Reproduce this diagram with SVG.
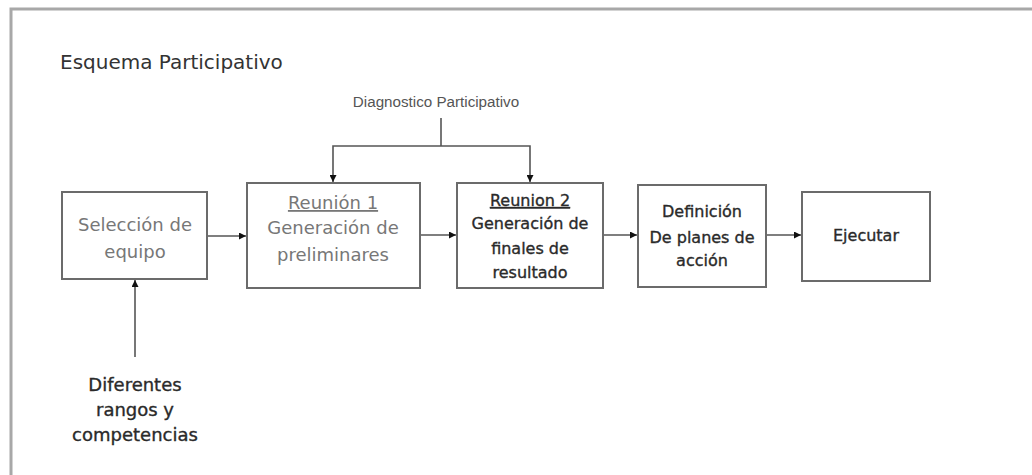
<svg xmlns="http://www.w3.org/2000/svg" width="1032" height="475" viewBox="0 0 1032 475">
<style>
.box{fill:#fff;stroke:#6b6b6b;stroke-width:2}
.t{font-family:"DejaVu Sans",Verdana,sans-serif;text-anchor:middle}
.g{fill:#777;font-size:18px}
.d{fill:#2a2a2a;font-size:16px;stroke:#2a2a2a;stroke-width:0.35}
.dl{fill:#2a2a2a;font-size:18px;stroke:#2a2a2a;stroke-width:0.35}
.ln{fill:none;stroke:#555;stroke-width:1.6}
.small{font-family:"Liberation Sans",Arial,sans-serif;font-size:15.2px;fill:#555;text-anchor:middle}
</style>
<defs>
<marker id="ah" viewBox="0 0 10 10" refX="10" refY="5" markerWidth="7" markerHeight="7" markerUnits="userSpaceOnUse" orient="auto">
<path d="M0,0 L10,5 L0,10 z" fill="#111"/>
</marker>
</defs>
<rect width="1032" height="475" fill="#fff"/>
<path d="M11,475 V9 H1032" fill="none" stroke="#a8a8a8" stroke-width="3"/>
<text x="60" y="69" font-family="DejaVu Sans,Verdana,sans-serif" font-size="20" fill="#333">Esquema Participativo</text>

<g id="connectors">
<line class="ln" x1="207" y1="236" x2="246" y2="236" marker-end="url(#ah)"/>
<line class="ln" x1="420" y1="235" x2="456" y2="235" marker-end="url(#ah)"/>
<line class="ln" x1="603" y1="235" x2="637" y2="235" marker-end="url(#ah)"/>
<line class="ln" x1="766" y1="235" x2="801" y2="235" marker-end="url(#ah)"/>
<line class="ln" x1="135" y1="357" x2="135" y2="280" marker-end="url(#ah)"/>
<polyline class="ln" points="441,146 333,146 333,182" marker-end="url(#ah)"/>
<polyline class="ln" points="441,146 530,146 530,182" marker-end="url(#ah)"/>
<line class="ln" x1="441" y1="118" x2="441" y2="146"/>
</g>

<g id="label-diagnostico">
<text class="small" x="436" y="107">Diagnostico Participativo</text>
</g>

<g id="node-seleccion">
<rect class="box" x="62" y="192" width="145" height="87"/>
<text class="t g" x="135" y="231">Selección de</text>
<text class="t g" x="135" y="258">equipo</text>
</g>

<g id="node-reunion1">
<rect class="box" x="247" y="183" width="173" height="105"/>
<text class="t g" x="333" y="209" text-decoration="underline">Reunión  1</text>
<text class="t g" x="333" y="234">Generación de</text>
<text class="t g" x="333" y="261">preliminares</text>
</g>

<g id="node-reunion2">
<rect class="box" x="457" y="183" width="146" height="105"/>
<text class="t d" x="530" y="206" text-decoration="underline">Reunion 2</text>
<text class="t d" x="530" y="229">Generación de</text>
<text class="t d" x="530" y="254">finales de</text>
<text class="t d" x="530" y="278">resultado</text>
</g>

<g id="node-definicion">
<rect class="box" x="638" y="185" width="128" height="102"/>
<text class="t d" x="702" y="217">Definición</text>
<text class="t d" x="702" y="243">De planes de</text>
<text class="t d" x="702" y="266">acción</text>
</g>

<g id="node-ejecutar">
<rect class="box" x="802" y="192" width="128" height="89"/>
<text class="t d" x="866" y="241">Ejecutar</text>
</g>

<g id="node-diferentes">
<text class="t dl" x="135" y="391">Diferentes</text>
<text class="t dl" x="135" y="416">rangos y</text>
<text class="t dl" x="135" y="441">competencias</text>
</g>
</svg>
